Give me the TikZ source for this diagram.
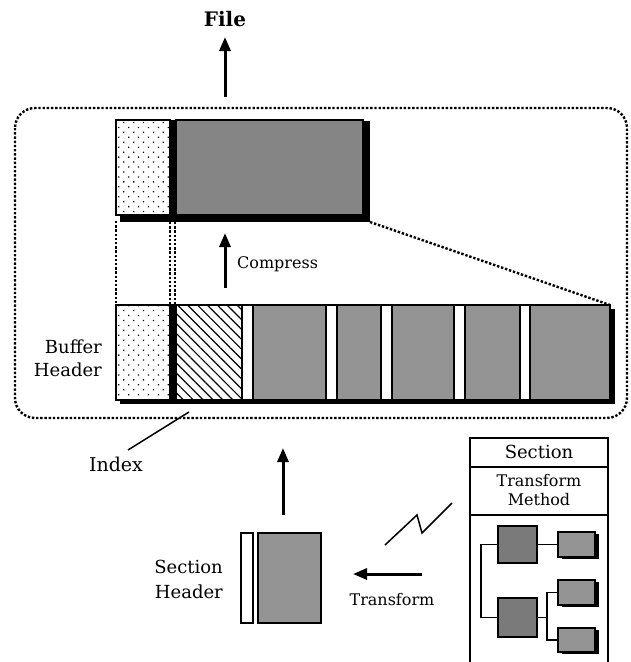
\documentclass[tikz,border=0pt]{standalone}
\usepackage{fontspec}
\setmainfont{DejaVu Serif}
\usetikzlibrary{arrows.meta,patterns,patterns.meta}
\tikzset{
  bx/.style={draw, line width=1.8pt, inner sep=0pt, outer sep=0pt, anchor=north west},
  shd/.style={fill=black, inner sep=0pt, outer sep=0pt, anchor=north west},
  dotbox/.style={bx, fill=white, postaction={pattern={Dots[distance=7pt, radius=0.9pt, angle=45]}}},
  hatchbox/.style={bx, fill=white, postaction={pattern={Lines[angle=-45, distance=7pt, line width=1.2pt]}}},
  graybox/.style={bx, fill=black!42},
  darkbox/.style={bx, fill=black!48},
  dotline/.style={line width=2.4pt, dash pattern=on 2.4pt off 1.8pt},
  bigarrow/.style={line width=3pt, -{Triangle[length=14pt, width=11pt]}},
  lbl/.style={font=\fontsize{18}{23}\selectfont, inner sep=0pt},
  treeline/.style={line width=1.8pt}
}
\begin{document}
\begin{tikzpicture}[x=1pt, y=-1pt]
\useasboundingbox (0,0) rectangle (630,662);
% File
\node[font=\fontsize{20}{24}\selectfont\bfseries, inner sep=0pt] (file) at (225,19) {File};
\coordinate (fileA) at (225,97);
\coordinate (fileB) at (225,37);
\draw[bigarrow] (fileA) -- (fileB);
% dotted container
\draw[dotline, rounded corners=20pt] (15,108) rectangle (627,418);
% top compressed block
\node[shd, minimum width=250, minimum height=101] (tsh) at (120,121) {};
\node[dotbox, minimum width=54, minimum height=95] (tdot) at (116,120) {};
\node[shd, minimum width=6, minimum height=95] (tsep) at (170,120) {};
\node[darkbox, minimum width=187, minimum height=95] (tgray) at (176,120) {};
% lower row
\node[shd, minimum width=495, minimum height=95] (rowsh) at (120,309) {};
\node[bx, fill=white, minimum width=494, minimum height=95] (row) at (116,305) {};
\node[dotbox, minimum width=54, minimum height=95] (ldot) at (116,305) {};
\node[shd, minimum width=6, minimum height=95] (lsep) at (170,305) {};
\node[hatchbox, minimum width=66, minimum height=95] (lhatch) at (176,305) {};
\node[graybox, minimum width=73, minimum height=95] (g1) at (253,305) {};
\node[graybox, minimum width=44, minimum height=95] (g2) at (337,305) {};
\node[graybox, minimum width=62, minimum height=95] (g3) at (392,305) {};
\node[graybox, minimum width=55, minimum height=95] (g4) at (465,305) {};
\node[graybox, minimum width=80, minimum height=95] (g5) at (530,305) {};
% dotted links
\draw[dotline] (tdot.south west) ++(0,6) -- (ldot.north west);
\draw[dotline] (170,222) -- (170,305);
\draw[dotline] (175,222) -- (175,305);
\draw[dotline] (tsh.south east) -- (row.north east);
% compress
\coordinate (cmpA) at (225,288);
\coordinate (cmpB) at (225,233);
\draw[bigarrow] (cmpA) -- (cmpB);
\node[lbl, font=\fontsize{16}{20}\selectfont, anchor=west] (compress) at (237,264) {Compress};
% buffer header
\node[lbl, align=right, anchor=east] (bufhdr) at (102,358) {Buffer\\Header};
% index
\node[lbl, font=\fontsize{19}{24}\selectfont] (index) at (116,464) {Index};
\coordinate (idxA) at (189,412);
\coordinate (idxB) at (128,450);
\draw[line width=1.5pt] (idxA) -- (idxB);
% section header
\node[bx, fill=white, minimum width=12, minimum height=90] (shwhite) at (241,533) {};
\node[graybox, minimum width=63, minimum height=90] (shgray) at (258,533) {};
\node[lbl, font=\fontsize{18}{25}\selectfont, align=right, anchor=east] (sechdr) at (223,579) {Section\\Header};
\coordinate (upA) at (283,515);
\coordinate (upB) at (283,448);
\draw[bigarrow] (upA) -- (upB);
% transform
\coordinate (trA) at (422,574);
\coordinate (trB) at (353,574);
\draw[bigarrow] (trA) -- (trB);
\node[lbl, font=\fontsize{16}{20}\selectfont] (transform) at (392,600) {Transform};
\draw[line width=1.5pt] (385,545) -- (417,515) -- (422,533) -- (452,503);
% section box
\draw[line width=1.8pt] (470,662) -- (470,438) -- (608,438) -- (608,662);
\draw[line width=1.8pt] (470,467) -- (608,467);
\draw[line width=1.8pt] (470,515) -- (608,515);
\node[lbl, font=\fontsize{18}{24}\selectfont] (secttl) at (539,452) {Section};
\node[lbl, font=\fontsize{16}{19}\selectfont, align=center] (method) at (539,490) {Transform\\Method};
% tree
\node[shd, minimum width=37, minimum height=25] at (562,534) {};
\node[shd, minimum width=37, minimum height=25] at (562,582) {};
\node[shd, minimum width=37, minimum height=24] at (562,630) {};
\node[darkbox, line width=2.4pt, fill=black!52, minimum width=39, minimum height=37] (ta) at (498,526) {};
\node[graybox, line width=2pt, minimum width=37, minimum height=25] (tb) at (558,532) {};
\node[darkbox, line width=2.4pt, fill=black!52, minimum width=39, minimum height=39] (tc) at (498,598) {};
\node[graybox, line width=2pt, minimum width=37, minimum height=25] (td) at (558,580) {};
\node[graybox, line width=2pt, minimum width=37, minimum height=24] (te) at (558,628) {};
\draw[treeline] (ta.east) -- (tb.west);
\draw[treeline] (ta.west) -- ++(-17,0) |- (tc.west);
\draw[treeline] (tc.east) -- ++(10,0) coordinate (tcj);
\draw[treeline] (tcj) |- (td.west);
\draw[treeline] (tcj) |- (te.west);
\end{tikzpicture}
\end{document}
